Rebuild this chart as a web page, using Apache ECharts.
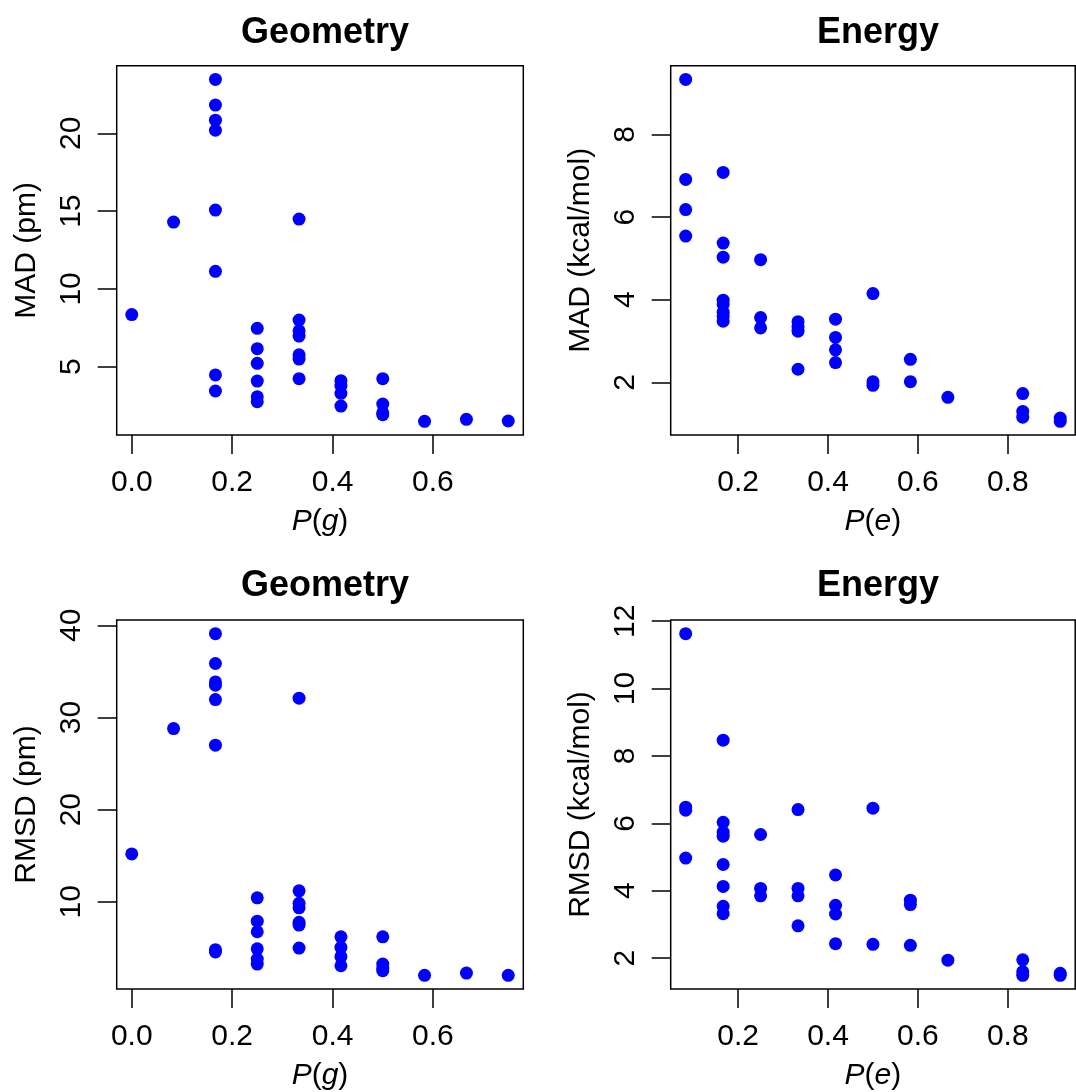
<!DOCTYPE html>
<html>
<head>
<meta charset="utf-8">
<script src="https://cdn.jsdelivr.net/npm/echarts@6/dist/echarts.min.js"></script>
<style>
html,body{margin:0;padding:0;background:#fff;}
#c{width:1076px;height:1092px;}
</style>
</head>
<body>
<div id="c"></div>
<script>
// ---- data ----
var panelTitles = ['Geometry', 'Energy', 'Geometry', 'Energy'];
var yNames = ['MAD (pm)', 'MAD (kcal/mol)', 'RMSD (pm)', 'RMSD (kcal/mol)'];
var xNames = ['g', 'e', 'g', 'e'];

var geomXTicks = [0.0, 0.2, 0.4, 0.6];
var energyXTicks = [0.2, 0.4, 0.6, 0.8];
var geomMadYTicks = [5, 10, 15, 20];
var energyMadYTicks = [2, 4, 6, 8];
var geomRmsdYTicks = [10, 20, 30, 40];
var energyRmsdYTicks = [2, 4, 6, 8, 10, 12];

var geomMad = [
  [0, 8.35], [0.0833, 14.3],
  [0.1667, 23.47], [0.1667, 21.82], [0.1667, 20.85], [0.1667, 20.2], [0.1667, 15.07], [0.1667, 11.13], [0.1667, 4.47], [0.1667, 3.44],
  [0.25, 7.47], [0.25, 6.16], [0.25, 5.22], [0.25, 4.08], [0.25, 3.07], [0.25, 2.75],
  [0.3333, 14.49], [0.3333, 8.0], [0.3333, 7.31], [0.3333, 6.97], [0.3333, 5.77], [0.3333, 5.49], [0.3333, 4.23],
  [0.4167, 4.1], [0.4167, 3.76], [0.4167, 3.29], [0.4167, 2.47],
  [0.5, 4.23], [0.5, 2.6], [0.5, 2.04], [0.5, 1.92],
  [0.5833, 1.49], [0.6667, 1.62], [0.75, 1.51]
];
var energyMad = [
  [0.0833, 9.33], [0.0833, 6.91], [0.0833, 6.18], [0.0833, 5.54],
  [0.1667, 7.08], [0.1667, 5.37], [0.1667, 5.03], [0.1667, 3.99], [0.1667, 3.89], [0.1667, 3.70], [0.1667, 3.60], [0.1667, 3.48],
  [0.25, 4.97], [0.25, 3.57], [0.25, 3.32],
  [0.3333, 3.47], [0.3333, 3.34], [0.3333, 3.24], [0.3333, 2.32],
  [0.4167, 3.53], [0.4167, 3.09], [0.4167, 2.79], [0.4167, 2.48],
  [0.5, 4.15], [0.5, 2.02], [0.5, 1.93],
  [0.5833, 2.56], [0.5833, 2.02],
  [0.6667, 1.64],
  [0.8333, 1.73], [0.8333, 1.30], [0.8333, 1.16],
  [0.9167, 1.14], [0.9167, 1.06]
];
var geomRmsd = [
  [0, 15.2], [0.0833, 28.8],
  [0.1667, 39.1], [0.1667, 35.86], [0.1667, 33.86], [0.1667, 33.5], [0.1667, 31.95], [0.1667, 27.0], [0.1667, 4.8], [0.1667, 4.55],
  [0.25, 10.43], [0.25, 7.9], [0.25, 6.75], [0.25, 4.9], [0.25, 3.79], [0.25, 3.24],
  [0.3333, 32.1], [0.3333, 11.19], [0.3333, 9.83], [0.3333, 9.35], [0.3333, 7.77], [0.3333, 7.47], [0.3333, 4.98],
  [0.4167, 6.2], [0.4167, 5.05], [0.4167, 4.04], [0.4167, 3.06],
  [0.5, 6.2], [0.5, 3.24], [0.5, 2.78], [0.5, 2.52],
  [0.5833, 2.02], [0.6667, 2.27], [0.75, 2.02]
];
var energyRmsd = [
  [0.0833, 11.63], [0.0833, 6.48], [0.0833, 6.39], [0.0833, 4.97],
  [0.1667, 8.47], [0.1667, 6.03], [0.1667, 5.74], [0.1667, 5.62], [0.1667, 4.78], [0.1667, 4.13], [0.1667, 3.54], [0.1667, 3.32],
  [0.25, 5.67], [0.25, 4.07], [0.25, 3.85],
  [0.3333, 6.41], [0.3333, 4.07], [0.3333, 3.85], [0.3333, 2.96],
  [0.4167, 4.47], [0.4167, 3.57], [0.4167, 3.31], [0.4167, 2.43],
  [0.5, 6.45], [0.5, 2.41],
  [0.5833, 3.72], [0.5833, 3.59], [0.5833, 2.38],
  [0.6667, 1.94],
  [0.8333, 1.95], [0.8333, 1.6], [0.8333, 1.49],
  [0.9167, 1.55], [0.9167, 1.49]
];

// ---- build ----
var FONT = '"Liberation Sans", Arial, Helvetica, sans-serif';
var panels = [
  {data: geomMad,    xt: geomXTicks,   yt: geomMadYTicks},
  {data: energyMad,  xt: energyXTicks, yt: energyMadYTicks},
  {data: geomRmsd,   xt: geomXTicks,   yt: geomRmsdYTicks},
  {data: energyRmsd, xt: energyXTicks, yt: energyRmsdYTicks}
];
var grids = [
  {left: 116.7, top: 65.7, width: 406.6, height: 369.3},
  {left: 670.7, top: 65.7, width: 404.5, height: 369.3},
  {left: 116.7, top: 620,  width: 406.6, height: 369},
  {left: 670.7, top: 620,  width: 404.5, height: 369}
];
function rng(vals) {
  var mn = Math.min.apply(null, vals), mx = Math.max.apply(null, vals);
  var p = 0.04 * (mx - mn);
  return [mn - p, mx + p];
}
var option = {
  backgroundColor: '#ffffff',
  animation: false,
  title: [], grid: [], xAxis: [], yAxis: [], series: []
};
var titleTops = [10, 10, 563, 563];
panels.forEach(function (p, i) {
  var g = grids[i];
  option.grid.push({left: g.left, top: g.top, width: g.width, height: g.height,
    show: true, borderColor: '#000', borderWidth: 1.5, backgroundColor: 'transparent', containLabel: false});
  option.title.push({
    text: panelTitles[i], left: g.left + g.width / 2, top: titleTops[i], textAlign: 'center',
    textStyle: {fontFamily: FONT, fontSize: 36, fontWeight: 'bold', color: '#000'}
  });
  var xr = rng(p.data.map(function (d) { return d[0]; }));
  var yr = rng(p.data.map(function (d) { return d[1]; }));
  option.xAxis.push({
    type: 'value', gridIndex: i, min: xr[0], max: xr[1],
    axisLine: {show: false, onZero: false},
    splitLine: {show: false},
    axisTick: {show: true, length: 19, inside: false, lineStyle: {color: '#000', width: 1.5}, customValues: p.xt},
    axisLabel: {show: true, margin: 33, color: '#000', fontFamily: FONT, fontSize: 30, customValues: p.xt,
      formatter: function (v) { return v.toFixed(1); }},
    name: '{i|P}(' + '{i|' + xNames[i] + '})', nameLocation: 'middle', nameGap: 72,
    nameTextStyle: {fontFamily: FONT, fontSize: 30, color: '#000',
      rich: {i: {fontFamily: FONT, fontSize: 30, fontStyle: 'italic', color: '#000'}}}
  });
  option.yAxis.push({
    type: 'value', gridIndex: i, min: yr[0], max: yr[1],
    axisLine: {show: false, onZero: false},
    splitLine: {show: false},
    axisTick: {show: true, length: 19, inside: false, lineStyle: {color: '#000', width: 1.5}, customValues: p.yt},
    axisLabel: {show: true, rotate: 90, margin: 30, color: '#000', fontFamily: FONT, fontSize: 30, customValues: p.yt,
      formatter: function (v) { return String(Math.round(v)); }},
    name: yNames[i], nameLocation: 'middle', nameRotate: 90, nameGap: 75,
    nameTextStyle: {fontFamily: FONT, fontSize: 30, color: '#000'}
  });
  option.series.push({
    type: 'scatter', xAxisIndex: i, yAxisIndex: i, data: p.data,
    symbol: 'circle', symbolSize: 13, itemStyle: {color: '#0000ff', opacity: 1},
    silent: true
  });
});
var chart = echarts.init(document.getElementById('c'), null, {renderer: 'canvas'});
chart.setOption(option);
</script>
</body>
</html>
